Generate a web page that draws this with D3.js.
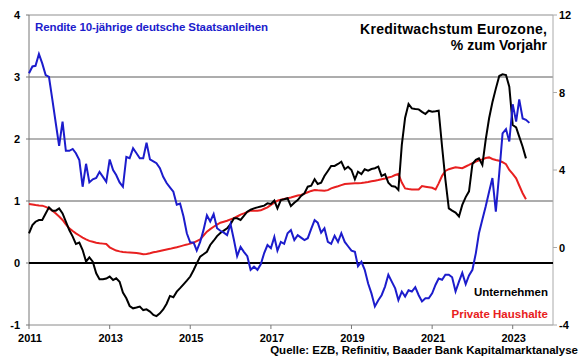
<!DOCTYPE html>
<html>
<head>
<meta charset="UTF-8">
<title>Rendite und Kreditwachstum</title>
<script src="https://cdn.jsdelivr.net/npm/d3@7"></script>
<style>
	body { margin: 0; background: #fff; }
	text { font-family: Arial, "Liberation Sans", sans-serif; font-weight: bold; }
</style>
</head>
<body>
<script>
// monthly series, first value = Jan 2011
var startMonth = new Date(2011, 0, 1);

// Rendite 10-jaehrige Bundesanleihen (linke Achse)
var bundYield = [
	3.06,3.17,3.18,3.37,3.22,3.03,3.00,2.63,2.25,1.89,2.28,1.81,
	1.81,1.84,1.77,1.66,1.23,1.60,1.30,1.35,1.37,1.47,1.39,1.31,
	1.67,1.50,1.42,1.30,1.23,1.71,1.69,1.85,1.77,1.69,1.69,1.94,
	1.67,1.64,1.61,1.53,1.39,1.29,1.22,1.15,0.94,0.96,0.75,0.48,
	0.33,0.33,0.20,0.34,0.53,0.77,0.67,0.79,0.56,0.52,0.49,0.45,
	0.63,0.37,0.11,0.26,0.18,0.11,-0.11,-0.06,-0.11,-0.02,0.16,0.29,
	0.24,0.42,0.20,0.34,0.31,0.48,0.53,0.37,0.45,0.41,0.37,0.40,
	0.55,0.69,0.65,0.49,0.56,0.34,0.31,0.44,0.34,0.48,0.34,0.27,
	0.20,0.18,-0.05,0.02,-0.11,-0.33,-0.49,-0.70,-0.60,-0.52,-0.38,-0.19,
	-0.30,-0.41,-0.60,-0.46,-0.54,-0.44,-0.46,-0.39,-0.52,-0.62,-0.57,-0.57,
	-0.49,-0.35,-0.25,-0.27,-0.19,-0.19,-0.23,-0.46,-0.30,-0.16,-0.34,-0.20,
	-0.11,0.16,0.48,0.70,0.91,1.15,1.37,0.83,1.45,2.09,2.16,1.96,
	2.56,2.28,2.64,2.33,2.31,2.26
];

// Kredite an Unternehmen, % yoy (rechte Achse)
var loansCorp = [
	0.73,1.16,1.33,1.42,1.42,1.75,2.07,1.90,1.90,2.02,1.76,1.33,
	0.90,0.56,0.18,0.25,-0.13,-0.73,-0.51,-0.73,-1.33,-1.64,-1.64,-1.60,
	-1.50,-1.68,-1.59,-1.77,-2.33,-2.62,-3.02,-3.14,-3.10,-3.05,-3.23,-3.19,
	-3.31,-3.48,-3.54,-3.40,-3.20,-2.90,-2.50,-2.57,-2.28,-2.10,-1.90,-1.71,
	-1.50,-1.16,-0.82,-0.47,-0.35,-0.22,0.13,0.35,0.59,0.75,0.87,0.99,
	1.21,1.51,1.51,1.42,1.63,1.85,1.95,2.02,2.07,2.12,2.16,2.28,
	2.25,2.42,2.02,2.45,2.49,2.54,2.14,2.31,2.45,2.66,2.80,3.14,
	3.19,3.52,3.28,3.35,3.69,3.95,4.21,4.21,4.31,4.43,4.04,4.17,
	4.00,3.52,3.91,3.79,4.04,3.97,4.05,4.09,4.17,3.69,3.79,3.35,
	3.17,3.14,2.97,5.30,6.70,7.41,7.18,7.15,7.13,7.00,6.89,7.06,
	7.01,7.03,7.06,5.20,3.50,2.02,1.90,1.80,1.60,2.20,2.60,2.90,
	4.31,4.52,4.60,4.26,5.55,6.67,7.50,8.20,8.85,8.94,8.90,8.30,
	6.32,6.20,5.72,5.20,4.60
];

// Kredite an private Haushalte, % yoy (rechte Achse)
var loansHouse = [
	2.25,2.22,2.19,2.17,2.16,2.10,2.02,1.90,1.76,1.60,1.42,1.20,
	0.99,0.85,0.73,0.62,0.51,0.42,0.34,0.30,0.25,0.22,0.20,0.18,
	0.01,-0.08,-0.16,-0.20,-0.23,-0.25,-0.26,-0.27,-0.28,-0.31,-0.35,-0.33,
	-0.30,-0.25,-0.22,-0.18,-0.14,-0.10,-0.07,-0.03,0.01,0.06,0.11,0.15,
	0.20,0.25,0.33,0.42,0.62,0.82,0.95,1.07,1.18,1.28,1.33,1.38,
	1.45,1.51,1.60,1.70,1.76,1.83,1.90,1.90,1.90,1.92,2.00,2.07,
	2.20,2.32,2.42,2.46,2.50,2.54,2.58,2.63,2.68,2.71,2.78,2.85,
	2.92,2.97,2.95,2.94,2.93,2.96,3.05,3.11,3.16,3.22,3.28,3.29,
	3.30,3.31,3.32,3.33,3.35,3.38,3.42,3.45,3.48,3.52,3.56,3.61,
	3.66,3.74,3.79,3.35,3.05,3.02,3.00,3.00,3.00,3.17,3.14,3.11,
	3.08,3.00,3.31,3.70,3.95,4.04,4.09,4.14,4.12,4.09,4.18,4.26,
	4.35,4.43,4.50,4.55,4.62,4.65,4.57,4.52,4.48,4.40,4.30,4.00,
	3.80,3.57,3.20,2.80,2.49
];

var leftTicks = [-1, 0, 1, 2, 3, 4];
var rightTicks = [-4, 0, 4, 8, 12];
var yearTicks = [2011, 2013, 2015, 2017, 2019, 2021, 2023];

var width = 580, height = 359;
var plot = {left: 29, right: 553, top: 15, bottom: 325};
var blue = "#1c1ccc", red = "#e82020";

var svg = d3.select("body").append("svg")
	.attr("width", width)
	.attr("height", height);

var x = d3.scaleTime()
	.domain([new Date(2011, 0, 1), new Date(2024, 0, 1)])
	.range([plot.left, plot.right]);
var yL = d3.scaleLinear().domain([-1, 4]).range([plot.bottom, plot.top]);
var yR = d3.scaleLinear().domain([-4, 12]).range([plot.bottom, plot.top]);

function monthX(d, i) { return x(d3.timeMonth.offset(startMonth, i)); }

// horizontal grid
var gridStyle = {4: ["#b4b4b4", 1.5], 3: ["#5a5a5a", 1], 2: ["#b4b4b4", 2], 1: ["#5a5a5a", 1], "-1": ["#8a8a8a", 1]};
svg.append("g").selectAll("line")
	.data(leftTicks.filter(function (t) { return t !== 0; }))
	.enter().append("line")
	.attr("x1", plot.left).attr("x2", plot.right)
	.attr("y1", function (d) { return yL(d); })
	.attr("y2", function (d) { return yL(d); })
	.attr("stroke", function (d) { return gridStyle[d][0]; })
	.attr("stroke-width", function (d) { return gridStyle[d][1]; });

// axes lines
svg.append("line").attr("x1", plot.left).attr("x2", plot.left)
	.attr("y1", plot.top).attr("y2", plot.bottom).attr("stroke", "#777");
svg.append("line").attr("x1", plot.right).attr("x2", plot.right)
	.attr("y1", plot.top).attr("y2", plot.bottom).attr("stroke", "#aaa");

// left axis
var gl = svg.append("g");
gl.selectAll("line").data(leftTicks).enter().append("line")
	.attr("x1", plot.left - 3).attr("x2", plot.left)
	.attr("y1", function (d) { return yL(d); })
	.attr("y2", function (d) { return yL(d); })
	.attr("stroke", "#777");
gl.selectAll("text").data(leftTicks).enter().append("text")
	.attr("x", 20)
	.attr("y", function (d) { return yL(d) + 4; })
	.attr("text-anchor", "end")
	.attr("font-size", 11)
	.text(function (d) { return d; });

// right axis
var gr = svg.append("g");
gr.selectAll("line").data(rightTicks).enter().append("line")
	.attr("x1", plot.right).attr("x2", plot.right + 4)
	.attr("y1", function (d) { return yR(d); })
	.attr("y2", function (d) { return yR(d); })
	.attr("stroke", "#aaa");
gr.selectAll("text").data(rightTicks).enter().append("text")
	.attr("x", 559)
	.attr("y", function (d) { return yR(d) + 4; })
	.attr("font-size", 11)
	.text(function (d) { return d; });

// x axis
var gx = svg.append("g");
gx.selectAll("line").data(yearTicks).enter().append("line")
	.attr("x1", function (d) { return x(new Date(d, 0, 1)); })
	.attr("x2", function (d) { return x(new Date(d, 0, 1)); })
	.attr("y1", plot.bottom).attr("y2", plot.bottom + 4)
	.attr("stroke", "#777");
gx.selectAll("text").data(yearTicks).enter().append("text")
	.attr("x", function (d) { return x(new Date(d, 0, 1)) + 1; })
	.attr("y", 342)
	.attr("text-anchor", "middle")
	.attr("font-size", 11)
	.text(function (d) { return d; });

// zero line
svg.append("line")
	.attr("x1", plot.left).attr("x2", plot.right)
	.attr("y1", yL(0)).attr("y2", yL(0))
	.attr("stroke", "#000").attr("stroke-width", 2);

// series
var lineR = d3.line().x(monthX).y(function (d) { return yR(d); });
var lineL = d3.line().x(monthX).y(function (d) { return yL(d); });

svg.append("path").datum(loansHouse)
	.attr("d", lineR).attr("fill", "none")
	.attr("stroke", red).attr("stroke-width", 2);
svg.append("path").datum(loansCorp)
	.attr("d", lineR).attr("fill", "none")
	.attr("stroke", "#000").attr("stroke-width", 2);
svg.append("path").datum(bundYield)
	.attr("d", lineL).attr("fill", "none")
	.attr("stroke", blue).attr("stroke-width", 2);

// labels
svg.append("text").attr("x", 35).attr("y", 30.5)
	.attr("font-size", 11.5).attr("fill", blue)
	.attr("textLength", 233).attr("lengthAdjust", "spacing")
	.text("Rendite 10-jährige deutsche Staatsanleihen");
svg.append("text").attr("x", 360).attr("y", 33.5)
	.attr("font-size", 14)
	.attr("textLength", 187).attr("lengthAdjust", "spacing")
	.text("Kreditwachstum Eurozone,");
svg.append("text").attr("x", 547).attr("y", 49.5)
	.attr("font-size", 14).attr("text-anchor", "end")
	.text("% zum Vorjahr");
svg.append("text").attr("x", 548).attr("y", 296)
	.attr("font-size", 11.5).attr("text-anchor", "end")
	.text("Unternehmen");
svg.append("text").attr("x", 548).attr("y", 318)
	.attr("font-size", 11.5).attr("text-anchor", "end").attr("fill", red)
	.text("Private Haushalte");
svg.append("text").attr("x", 578).attr("y", 354)
	.attr("font-size", 11.5).attr("text-anchor", "end")
	.text("Quelle: EZB, Refinitiv, Baader Bank Kapitalmarktanalyse");
</script>
</body>
</html>
